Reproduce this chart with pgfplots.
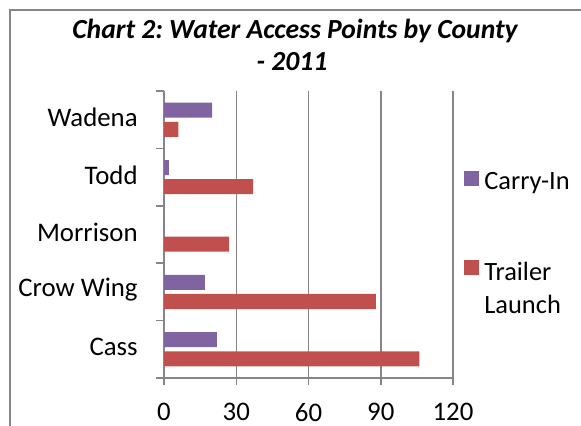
\documentclass[border=0pt]{standalone}
\usepackage{fontspec}
\setmainfont{Carlito}
\usepackage{pgfplots}
\pgfplotsset{compat=1.18}
\definecolor{carry}{HTML}{8064A2}
\definecolor{trailer}{HTML}{C0504D}
\definecolor{gridc}{HTML}{868686}
\frenchspacing

\begin{document}
\begin{tikzpicture}
\useasboundingbox (0,0) rectangle (290.5pt,213pt);
% chart frame (cut off on the right and below, as in the reference)
\draw[gridc, line width=0.75pt] (5pt,-10pt) -- (5pt,208pt) -- (300pt,208pt);
\node[font=\fontsize{13.8}{16}\selectfont\bfseries\itshape, anchor=base, inner sep=0pt]
  at (147.5pt,193.5pt) {Chart 2: Water Access Points by County};
\node[font=\fontsize{13.8}{16}\selectfont\bfseries\itshape, anchor=base, inner sep=0pt]
  at (146pt,177.5pt) {- 2011};
\begin{axis}[
  at={(82pt,24pt)}, anchor=south west,
  scale only axis, width=144.5pt, height=143.5pt,
  xbar, bar width=7.5pt,
  xmin=0, xmax=120, ymin=-0.5, ymax=4.5,
  xtick={0,30,60,90,120},
  ytick={0,1,2,3,4},
  yticklabels={Cass,Crow Wing,Morrison,Todd,Wadena},
  minor ytick={-0.5,0.5,1.5,2.5,3.5,4.5},
  axis lines=left, axis line style={-, gridc, line width=0.75pt},
  xmajorgrids, grid style={gridc, line width=0.75pt},
  tick align=outside, major tick length=3.5pt, minor tick length=4pt,
  tick style={gridc, line width=0.75pt},
  major y tick style={draw=none},
  ticklabel style={font=\fontsize{13.4}{15}\selectfont, inner sep=0pt},
  yticklabel style={xshift=-9.5pt, yshift=1pt},
  xticklabel style={yshift=-9pt},
  /pgf/number format/assume math mode=true,
  legend style={draw=none, fill=none, inner sep=0pt, at={(1.038,0.721)},
    anchor=north west, font=\fontsize{13.2}{16.5}\selectfont,
    nodes={inner sep=0pt}, column sep=2.5pt, row sep=32.5pt},
  legend cell align=left,
]
\addplot[fill=carry, draw=none, bar shift=4.8pt,
  legend image code/.code={\fill[carry] (0pt,-2pt) rectangle (7.5pt,5.5pt);}]
  coordinates {(22,0) (17,1) (0,2) (2,3) (20,4)};
\addlegendentry{Carry-In}
\addplot[fill=trailer, draw=none, bar shift=-4.8pt,
  legend image code/.code={\fill[trailer] (0pt,-2pt) rectangle (7.5pt,5.5pt);}]
  coordinates {(106,0) (88,1) (27,2) (37,3) (6,4)};
\addlegendentry{\begin{tabular}[t]{@{}l@{}}Trailer\\Launch\end{tabular}}
\end{axis}
\end{tikzpicture}
\end{document}
